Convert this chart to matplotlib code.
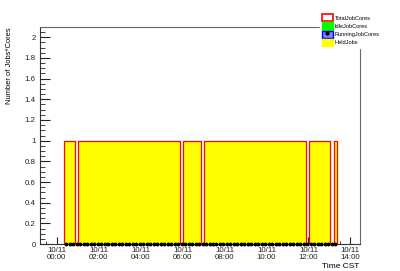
import numpy as np
import matplotlib.pyplot as plt
from matplotlib.patches import Patch
from matplotlib.lines import Line2D

plt.rcParams['font.family'] = ['Liberation Sans', 'DejaVu Sans']

# 10-minute bins on 10/11, first bin starting at 00:22 (hours from midnight)
first_bin = 22 / 60
bin_minutes = 10
n_bins = 78

# values per bin
held_jobs = [1, 1, 1, 0] + [1] * 29 + [0] + [1] * 5 + [0] + [1] * 29 + [0] + [1] * 6 + [0] + [1]
total_cores = [1, 1, 1, 0] + [1] * 29 + [0] + [1] * 5 + [0] + [1] * 29 + [0] + [1] * 6 + [0] + [1]
idle_cores = [0] * n_bins
running_cores = [0] * n_bins

tick_hours = [0, 2, 4, 6, 8, 10, 12, 14]
tick_labels = [f"10/11\n{h:02d}:00" for h in tick_hours]

edges = first_bin + np.arange(n_bins + 1) * bin_minutes / 60
centers = 0.5 * (edges[:-1] + edges[1:])

fig = plt.figure(figsize=(4, 2.71), dpi=100)
ax = fig.add_axes([0.1, 0.0996, 0.8, 0.8008])

ax.stairs(held_jobs, edges, fill=True, color='#ffff00', zorder=2)
ax.stairs(idle_cores, edges, fill=True, color='#00ff00', zorder=2)
ax.stairs(total_cores, edges, color='#ff0000', linewidth=0.9, zorder=3)
ax.plot(centers, running_cores, 'o', color='black', markersize=1.8,
        clip_on=False, zorder=4)

ax.set_xlim(-0.80, 14.46)
ax.set_ylim(0, 2.1)

ax.set_xticks(tick_hours)
ax.set_xticklabels(tick_labels, linespacing=1.05)
ax.set_xticks(np.arange(-0.5, 14.5, 0.5), minor=True)
ax.set_yticks(np.arange(0, 2.01, 0.2))
ax.set_yticklabels([f"{v:g}" for v in np.arange(0, 2.01, 0.2).round(1)])
ax.set_yticks(np.arange(0, 2.09, 0.05), minor=True)

ax.tick_params(axis='both', which='both', direction='in', labelsize=5.7,
               colors='#222222', top=False, right=False)
ax.tick_params(axis='x', which='major', length=4.8, pad=2.2)
ax.tick_params(axis='x', which='minor', length=2.4)
ax.tick_params(axis='y', which='major', length=6.9, pad=3)
ax.tick_params(axis='y', which='minor', length=3.4)
ax.set_axisbelow(True)

for side in ['left', 'bottom']:
    ax.spines[side].set_color('#333333')
    ax.spines[side].set_linewidth(0.8)
for side in ['top', 'right']:
    ax.spines[side].set_color('#666666')
    ax.spines[side].set_linewidth(0.8)

ax.set_ylabel('Number of Jobs*Cores', loc='top', fontsize=5.4)
ax.yaxis.set_label_coords(-0.083, 1.0)
fig.text(359 / 400, 1 - 267 / 271, 'Time CST', ha='right', va='center',
         fontsize=6.0)

handles = [
    Patch(facecolor='white', edgecolor='#ff0000', linewidth=1.2),
    Patch(facecolor='#00ff00', edgecolor='#00ff00'),
    (Patch(facecolor='#7f7fff', edgecolor='#0000ff', linewidth=1.0),
     Line2D([], [], marker='o', color='black', markersize=2, linestyle='none')),
    Patch(facecolor='#ffff00', edgecolor='#ffff00'),
]
labels = ['TotalJobCores', 'IdleJobCores', 'RunningJobCores', 'HeldJobs']
leg = fig.legend(handles, labels, loc='upper left',
                 bbox_to_anchor=(320 / 400, 1 - 12.5 / 271),
                 bbox_transform=fig.transFigure, fontsize=4.1,
                 handlelength=1.92, handleheight=1.57, labelspacing=0.17,
                 handletextpad=0.36, borderpad=0.3, borderaxespad=0,
                 frameon=True, fancybox=False, framealpha=1,
                 facecolor='white', edgecolor='white')

fig.savefig('out.png', dpi=100)
